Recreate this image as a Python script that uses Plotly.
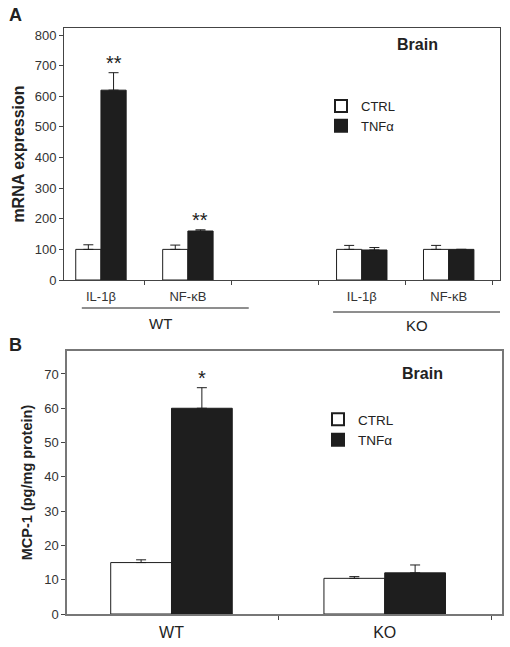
import plotly.graph_objects as go

# ---------------- Data ----------------
# Panel A: mRNA expression (Brain)
a_positions = [0, 1, 3, 4]
a_labels = ["IL-1β", "NF-κB", "IL-1β", "NF-κB"]
a_ctrl = [100, 100, 100, 100]
a_ctrl_err = [15, 14, 13, 13]
a_tnf = [620, 160, 98, 100]
a_tnf_err = [57, 4, 8, 0]
a_stars = ["**", "**", "", ""]

# Panel B: MCP-1 protein (Brain)
b_positions = [0, 1]
b_labels = ["WT", "KO"]
b_ctrl = [15, 10.4]
b_ctrl_err = [0.8, 0.5]
b_tnf = [60, 12]
b_tnf_err = [6, 2.3]
b_stars = ["*", ""]

W, H = 510, 647
FONT = "Liberation Sans, Arial, sans-serif"
BLACK = "#1e1e1e"
AXC = "#444444"

def px_x(p):
    return p / W

def px_y(p):
    return 1 - p / H

fig = go.Figure()

bw_a = 0.29
fig.add_trace(go.Bar(
    x=a_positions, y=a_ctrl, width=bw_a, offset=-bw_a, name="CTRL",
    marker=dict(color="white", line=dict(color=BLACK, width=1)),
    error_y=dict(type="data", symmetric=False, array=a_ctrl_err,
                 arrayminus=[0] * len(a_ctrl_err), color=BLACK, thickness=1, width=5),
    xaxis="x", yaxis="y", legend="legend"))
fig.add_trace(go.Bar(
    x=a_positions, y=a_tnf, width=bw_a, offset=0, name="TNFα",
    marker=dict(color=BLACK, line=dict(color=BLACK, width=1)),
    error_y=dict(type="data", symmetric=False, array=a_tnf_err,
                 arrayminus=[0] * len(a_tnf_err), color=BLACK, thickness=1, width=5),
    xaxis="x", yaxis="y", legend="legend"))

bw_b = 0.285
fig.add_trace(go.Bar(
    x=b_positions, y=b_ctrl, width=bw_b, offset=-bw_b, name="CTRL",
    marker=dict(color="white", line=dict(color=BLACK, width=1)),
    error_y=dict(type="data", symmetric=False, array=b_ctrl_err,
                 arrayminus=[0] * len(b_ctrl_err), color=BLACK, thickness=1, width=5),
    xaxis="x2", yaxis="y2", legend="legend2"))
fig.add_trace(go.Bar(
    x=b_positions, y=b_tnf, width=bw_b, offset=0, name="TNFα",
    marker=dict(color=BLACK, line=dict(color=BLACK, width=1)),
    error_y=dict(type="data", symmetric=False, array=b_tnf_err,
                 arrayminus=[0] * len(b_tnf_err), color=BLACK, thickness=1, width=5),
    xaxis="x2", yaxis="y2", legend="legend2"))

tickfont = dict(family=FONT, size=13, color="#333333")

fig.update_layout(
    width=W, height=H, margin=dict(l=0, r=0, t=0, b=0, autoexpand=False),
    paper_bgcolor="white", plot_bgcolor="white",
    barmode="overlay", font=dict(family=FONT, color="#222222"),
    xaxis=dict(domain=[px_x(64), px_x(500)], range=[-0.425, 4.59], automargin=False,
               tickvals=[0, 1, 3, 4], ticktext=a_labels, ticks="", ticklen=0,
               ticklabelstandoff=4,
               tickfont=tickfont, showline=True, linecolor=AXC, linewidth=1, mirror=True,
               showgrid=False, zeroline=False, anchor="y",
               minor=dict(tickvals=[0.5, 1.5, 2.5, 3.5, 4.5], ticks="outside",
                          ticklen=4, tickcolor=AXC, showgrid=False)),
    yaxis=dict(domain=[px_y(280), px_y(28)], range=[0, 823], automargin=False,
               tickvals=list(range(0, 801, 100)), ticks="outside", ticklen=4,
               tickcolor=AXC, tickfont=tickfont, showline=True, linecolor=AXC,
               linewidth=1, mirror=True, showgrid=False, zeroline=False, anchor="x",
               title=dict(text="<b>mRNA expression</b>", font=dict(family=FONT, size=16, color="#222222"),
                          standoff=6)),
    xaxis2=dict(domain=[px_x(67), px_x(502)], range=[-0.49, 1.55], automargin=False,
                tickvals=b_positions, ticktext=b_labels, ticks="", ticklen=0,
                ticklabelstandoff=3,
                tickfont=dict(family=FONT, size=16, color="#222222"),
                showline=True, linecolor="#777777", linewidth=1.5, mirror=True,
                showgrid=False, zeroline=False, anchor="y2",
                minor=dict(tickvals=[0.5, 1.5], ticks="outside", ticklen=4,
                           tickcolor=AXC, showgrid=False)),
    yaxis2=dict(domain=[px_y(614), px_y(351)], range=[0, 76.7], automargin=False,
                tickvals=list(range(0, 71, 10)), ticks="outside", ticklen=4,
                tickcolor=AXC, tickfont=tickfont, showline=True, linecolor="#777777",
                linewidth=1.5, mirror=True, showgrid=False, zeroline=False, anchor="x2",
                title=dict(text="<b>MCP-1 (pg/mg protein)</b>",
                           font=dict(family=FONT, size=14.5, color="#222222"), standoff=8)),
    legend=dict(x=px_x(321), y=px_y(91), xanchor="left", yanchor="top",
                font=dict(family=FONT, size=13, color="#222222"), bgcolor="rgba(0,0,0,0)",
                tracegroupgap=0, itemsizing="constant"),
    legend2=dict(x=px_x(318), y=px_y(404), xanchor="left", yanchor="top",
                 font=dict(family=FONT, size=13.5, color="#222222"), bgcolor="rgba(0,0,0,0)",
                 tracegroupgap=0, itemsizing="constant"),
    showlegend=True,
)

def paper_text(x, y, text, size, bold=False):
    return dict(x=px_x(x), y=px_y(y), xref="paper", yref="paper",
                text=f"<b>{text}</b>" if bold else text, showarrow=False,
                xanchor="center", yanchor="middle",
                font=dict(family=FONT, size=size, color="#222222"))

annotations = []
# significance stars
for xp, yv, err, s in zip(a_positions, a_tnf, a_tnf_err, a_stars):
    if s:
        annotations.append(dict(x=xp + bw_a / 2, y=yv + err, xref="x", yref="y", text=s,
                                showarrow=False, xanchor="center", yanchor="bottom", yshift=-3,
                                font=dict(family=FONT, size=20, color="#222222")))
for xp, yv, err, s in zip(b_positions, b_tnf, b_tnf_err, b_stars):
    if s:
        annotations.append(dict(x=xp + bw_b / 2, y=yv + err, xref="x2", yref="y2", text=s,
                                showarrow=False, xanchor="center", yanchor="bottom", yshift=-3,
                                font=dict(family=FONT, size=20, color="#222222")))
annotations.append(paper_text(417, 45, "Brain", 16, True))
annotations.append(paper_text(422, 373, "Brain", 16, True))
annotations.append(paper_text(15, 15, "A", 18, True))
annotations.append(paper_text(15, 345, "B", 18, True))
annotations.append(dict(x=0.68, y=px_y(323), xref="x", yref="paper", text="WT",
                        showarrow=False, xanchor="center", yanchor="middle",
                        font=dict(family=FONT, size=15, color="#222222")))
annotations.append(dict(x=3.63, y=px_y(325), xref="x", yref="paper", text="KO",
                        showarrow=False, xanchor="center", yanchor="middle",
                        font=dict(family=FONT, size=15, color="#222222")))
fig.update_layout(annotations=annotations)

fig.add_shape(type="line", xref="x", yref="paper", x0=-0.22, x1=1.7, y0=px_y(308), y1=px_y(308),
              line=dict(color=BLACK, width=1))
fig.add_shape(type="line", xref="x", yref="paper", x0=2.67, x1=4.59, y0=px_y(312), y1=px_y(312),
              line=dict(color=BLACK, width=1))

fig.write_html("out.html", config={"displayModeBar": False},
               post_script="document.body.style.margin='0';document.body.style.padding='0';")
